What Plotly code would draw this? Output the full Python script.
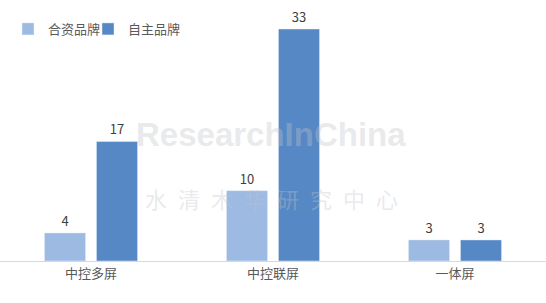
import plotly.graph_objects as go

categories = ["中控多屏", "中控联屏", "一体屏"]
jv_values = [4, 10, 3]
own_values = [17, 33, 3]
series_names = ["合资品牌", "自主品牌"]
colors = ["#9DBAE3", "#5588C4"]

font_family = "Noto Sans CJK SC, Microsoft YaHei, sans-serif"
wm_color = "rgba(193,195,200,0.37)"
px_per_unit = 7.03

fig = go.Figure()
for name, vals, col, lg in zip(series_names, [jv_values, own_values], colors, ["legend", "legend2"]):
    fig.add_trace(go.Bar(
        x=categories, y=vals, name=name, marker_color=col, legend=lg,
        text=[str(v) for v in vals], textposition="outside",
        textfont=dict(size=13, color="#404040", family=font_family),
        cliponaxis=False,
    ))

legend_common = dict(orientation="h", y=0.889, xanchor="left", yanchor="middle",
                     font=dict(size=13, color="#595959"), itemwidth=30,
                     bgcolor="rgba(0,0,0,0)")

fig.update_layout(
    width=546, height=303,
    margin=dict(l=0, r=0, t=0, b=42),
    paper_bgcolor="white", plot_bgcolor="white",
    barmode="group", bargap=0.4286, bargroupgap=0.21,
    font=dict(family=font_family, color="#595959", size=13),
    showlegend=True,
    legend=dict(x=8 / 546, **legend_common),
    legend2=dict(x=88 / 546, **legend_common),
    xaxis=dict(showline=True, linecolor="#D9D9D9", linewidth=1, ticks="",
               showgrid=False, tickfont=dict(size=13, color="#595959")),
    yaxis=dict(range=[0, 261 / px_per_unit], visible=False, showgrid=False, zeroline=False),
    annotations=[
        dict(text="<b>ResearchInChina</b>", x=271 / 546, y=(261 - 134) / px_per_unit,
             xref="paper", yref="y", showarrow=False,
             font=dict(family="Liberation Sans, Arial, sans-serif", size=33,
                       color=wm_color)),
        dict(text="\u2002".join("水清木华研究中心"), x=271 / 546, y=(261 - 198) / px_per_unit,
             xref="paper", yref="y", showarrow=False,
             font=dict(family=font_family, size=22, color=wm_color)),
    ],
)

fig.write_html("out.html")
